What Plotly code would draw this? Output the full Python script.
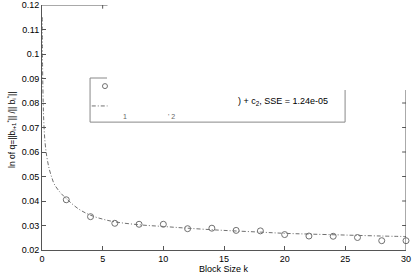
import plotly.graph_objects as go

# ---- data ----
block_k = [2, 4, 6, 8, 10, 12, 14, 16, 18, 20, 22, 24, 26, 28, 30]
ln_q = [0.0405, 0.0336, 0.0309, 0.0305, 0.0305, 0.0287, 0.0289, 0.0280,
        0.0278, 0.0263, 0.0257, 0.0256, 0.0251, 0.0238, 0.0238]

fit_x = [0.02, 0.05, 0.1, 0.15, 0.25, 0.4, 0.6, 0.8, 1.0, 1.5, 2, 3, 4, 5, 6,
         8, 10, 12, 15, 18, 20, 22, 25, 28, 30]
fit_y = [0.115, 0.094, 0.080, 0.072, 0.064, 0.058, 0.053, 0.0497, 0.047,
         0.0435, 0.0410, 0.0368, 0.0342, 0.0326, 0.0315, 0.0303, 0.0296,
         0.0289, 0.0280, 0.0273, 0.0268, 0.0265, 0.0261, 0.0257, 0.0255]

x_ticks = [0, 5, 10, 15, 20, 25, 30]
y_ticks = [0.02, 0.03, 0.04, 0.05, 0.06, 0.07, 0.08, 0.09, 0.10, 0.11, 0.12]
y_tick_text = ["0.02", "0.03", "0.04", "0.05", "0.06", "0.07", "0.08",
               "0.09", "0.1", "0.11", "0.12"]
right_ticks = [0.03, 0.04, 0.05, 0.06, 0.07, 0.08]

FONT = "Liberation Sans, Arial, sans-serif"
AX = "#555555"
GRAY = "#707070"

fig = go.Figure()
fig.add_trace(go.Scatter(x=fit_x, y=fit_y, mode="lines", line_shape="spline",
                         line=dict(color=GRAY, width=1, dash="4px,2px,1px,2px"),
                         showlegend=False, hoverinfo="skip", cliponaxis=False))
fig.add_trace(go.Scatter(x=block_k, y=ln_q, mode="markers",
                         marker=dict(symbol="circle-open", size=6,
                                     color=GRAY, line=dict(width=1)),
                         showlegend=False, cliponaxis=False))

shapes = []
# partial top border with tick at x=5
shapes.append(dict(type="line", xref="x", yref="y", x0=0, x1=5.4, y0=0.12, y1=0.12,
                   line=dict(color=AX, width=1)))
shapes.append(dict(type="line", xref="x", yref="y", x0=5, x1=5, y0=0.12, y1=0.1185,
                   line=dict(color=AX, width=1)))
# partial right border with ticks
shapes.append(dict(type="line", xref="x", yref="y", x0=30, x1=30, y0=0.02, y1=0.0853,
                   line=dict(color=AX, width=1)))
for t in right_ticks:
    shapes.append(dict(type="line", xref="x", yref="y", x0=30, x1=29.68, y0=t, y1=t,
                       line=dict(color=AX, width=1)))
# broken legend box
LB = "#888888"
shapes.append(dict(type="line", xref="x", yref="y", x0=3.96, x1=5.36, y0=0.0902, y1=0.0902,
                   line=dict(color=LB, width=1)))
shapes.append(dict(type="line", xref="x", yref="y", x0=3.96, x1=3.96, y0=0.0902, y1=0.0722,
                   line=dict(color=LB, width=1)))
shapes.append(dict(type="line", xref="x", yref="y", x0=3.96, x1=24.98, y0=0.0722, y1=0.0722,
                   line=dict(color=LB, width=1)))
shapes.append(dict(type="line", xref="x", yref="y", x0=24.98, x1=24.98, y0=0.0722, y1=0.0853,
                   line=dict(color=LB, width=1)))
# legend dash sample
shapes.append(dict(type="line", xref="x", yref="y", x0=4.1, x1=5.4, y0=0.0788, y1=0.0788,
                   line=dict(color=GRAY, width=1, dash="4px,2px,1px,2px")))
fig.update_layout(shapes=shapes)

# legend marker sample
fig.add_trace(go.Scatter(x=[5.19], y=[0.0869], mode="markers",
                         marker=dict(symbol="circle-open", size=5, color=GRAY,
                                     line=dict(width=1)),
                         showlegend=False, hoverinfo="skip"))

annotations = [
    dict(x=23.74, y=0.0805, xref="x", yref="y", xanchor="right", yanchor="middle",
         text=") + c<sub>2</sub>, SSE = 1.24e-05", showarrow=False,
         font=dict(family=FONT, size=9, color="black")),
    dict(x=6.8, y=0.0745, xref="x", yref="y", xanchor="center", yanchor="middle",
         text="1", showarrow=False, font=dict(family=FONT, size=7, color="#666666")),
    dict(x=10.7, y=0.0745, xref="x", yref="y", xanchor="center", yanchor="middle",
         text="' 2", showarrow=False, font=dict(family=FONT, size=7, color="#666666")),
    dict(x=-0.0824, y=0.49, xref="paper", yref="paper", xanchor="center",
         yanchor="middle", textangle=-90, showarrow=False,
         text="ln of q=||b<sub>i+1</sub><sup>*</sup>|| /|| b<sub>i</sub><sup>*</sup>||",
         font=dict(family=FONT, size=8.5, color="black")),
    dict(x=0.5, y=-0.076, xref="paper", yref="paper", xanchor="center",
         yanchor="middle", showarrow=False, text="Block Size k",
         font=dict(family=FONT, size=9, color="black")),
]
fig.update_layout(annotations=annotations)

fig.update_layout(
    width=414, height=275,
    margin=dict(l=42, r=8, t=5, b=25),
    paper_bgcolor="white", plot_bgcolor="white",
    font=dict(family=FONT, size=9, color="black"),
    xaxis=dict(range=[0, 30], tickvals=x_ticks, ticks="inside", ticklen=4,
               tickcolor=AX, showline=True, linecolor=AX, linewidth=1,
               showgrid=False, zeroline=False, mirror=False, automargin=False,
               tickfont=dict(family=FONT, size=9, color="black")),
    yaxis=dict(range=[0.02, 0.12], tickvals=y_ticks, ticktext=y_tick_text,
               ticks="inside", ticklen=4, tickcolor=AX, showline=True,
               linecolor=AX, linewidth=1, showgrid=False, zeroline=False,
               automargin=False,
               tickfont=dict(family=FONT, size=9, color="black")),
)

fig.write_html("out.html",
               config={"displayModeBar": False},
               post_script="document.body.style.margin='0';"
                           "document.body.style.overflow='hidden';")
